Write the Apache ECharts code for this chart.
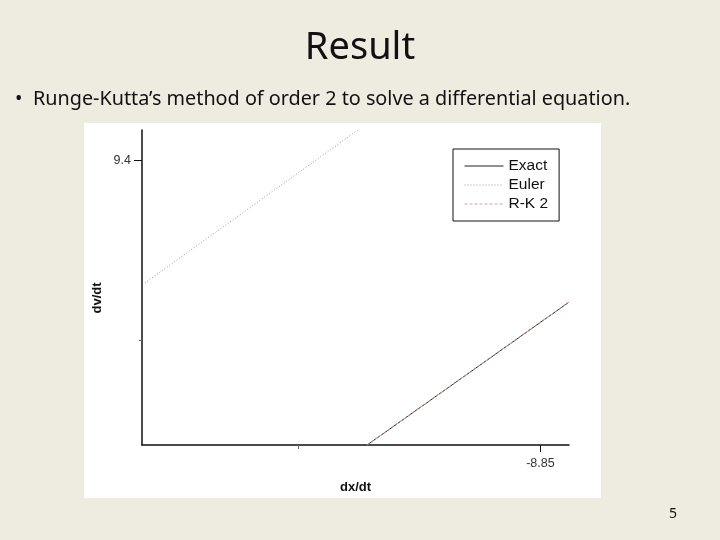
<!DOCTYPE html>
<html>
<head>
<meta charset="utf-8">
<script src="https://cdn.jsdelivr.net/npm/echarts@6/dist/echarts.min.js"></script>
<style>
  html, body { margin: 0; padding: 0; background: #eeebe1; }
  #chartContainer { width: 720px; height: 540px; }
</style>
</head>
<body>
<div id="chartContainer"></div>
<script>
  // Datos (dx/dt, dv/dt)
  const exactPoints = [[-8.8858, 9.3211], [-8.8441, 9.3607]];
  const eulerPoints = [[-8.9317, 9.3660], [-8.8877, 9.4084]];
  const rk2Points = [[-8.8858, 9.3211], [-8.8441, 9.3607]];
  const seriesNames = ['Exact', 'Euler', 'R-K 2'];

  // Marcas de los ejes
  const xMajorTicks = [-8.85];
  const xMinorTicks = [-8.9];
  const yMajorTicks = [9.4];
  const yMinorTicks = [9.35];
  const xRange = [-8.9323, -8.8441];
  const yRange = [9.3211, 9.4084];

  const chart = echarts.init(document.getElementById('chartContainer'));

  const gridBox = { left: 142, top: 130, right: 151, bottom: 95 };
  const axisFont = '"Liberation Sans", Arial, sans-serif';
  const slideFont = '"Noto Sans", sans-serif';

  const chartOptions = {
    backgroundColor: '#eeebe1',
    animation: false,
    title: {
      text: 'Result',
      left: 'center',
      top: 24,
      textStyle: {
        fontFamily: slideFont,
        fontSize: 38,
        fontWeight: 'normal',
        color: '#111'
      }
    },
    graphic: [
      { type: 'rect', z: -1, shape: { x: 84, y: 123, width: 517, height: 375 }, style: { fill: '#ffffff' } },
      { type: 'text', x: 15, y: 89, style: { text: '•', font: '19.8px ' + slideFont, fill: '#111' } },
      { type: 'text', x: 33, y: 89, style: { text: 'Runge-Kutta’s method of order 2 to solve a differential equation.', font: '19.8px ' + slideFont, fill: '#111' } },
      { type: 'text', x: 669, y: 507, style: { text: '5', font: '14px ' + slideFont, fill: '#111' } },
      { type: 'text', x: 97, y: 298, rotation: Math.PI / 2, style: { text: 'dv/dt', font: 'bold 13px ' + axisFont, fill: '#111', align: 'center', verticalAlign: 'middle' } }
    ],
    legend: {
      orient: 'vertical',
      left: 453,
      top: 149,
      padding: [9, 11, 9, 11],
      itemWidth: 39,
      itemHeight: 14,
      itemGap: 3,
      borderColor: '#111',
      borderWidth: 1,
      backgroundColor: '#fff',
      itemStyle: { opacity: 0 },
      lineStyle: { width: 1 },
      textStyle: { fontFamily: axisFont, fontSize: 15.5, color: '#111' },
      data: seriesNames
    },
    grid: gridBox,
    xAxis: [{
      type: 'value',
      min: xRange[0],
      max: xRange[1],
      name: 'dx/dt',
      nameLocation: 'middle',
      nameGap: 36,
      nameTextStyle: { fontFamily: axisFont, fontWeight: 'bold', fontSize: 13, color: '#111' },
      axisLine: { lineStyle: { color: '#111', width: 1.5 } },
      axisTick: { customValues: xMajorTicks, length: 7, lineStyle: { color: '#111' } },
      axisLabel: { customValues: xMajorTicks, margin: 12, fontFamily: axisFont, fontSize: 12.5, color: '#333', formatter: v => v.toFixed(2) },
      splitLine: { show: false }
    }, {
      type: 'value',
      min: xRange[0],
      max: xRange[1],
      position: 'bottom',
      axisLine: { show: false },
      axisTick: { customValues: xMinorTicks, length: 4, lineStyle: { color: '#666' } },
      axisLabel: { show: false },
      splitLine: { show: false }
    }],
    yAxis: [{
      type: 'value',
      min: yRange[0],
      max: yRange[1],
      axisLine: { show: true, lineStyle: { color: '#111', width: 1.5 } },
      axisTick: { show: true, customValues: yMajorTicks, length: 8, lineStyle: { color: '#111' } },
      axisLabel: { customValues: yMajorTicks, margin: 11, fontFamily: axisFont, fontSize: 12.5, color: '#333', formatter: v => v.toFixed(1) },
      splitLine: { show: false }
    }, {
      type: 'value',
      min: yRange[0],
      max: yRange[1],
      position: 'left',
      axisLine: { show: false },
      axisTick: { show: true, customValues: yMinorTicks, length: 3, lineStyle: { color: '#666' } },
      axisLabel: { show: false },
      splitLine: { show: false }
    }],
    series: [{
      name: 'Exact',
      type: 'line',
      data: exactPoints,
      symbol: 'none',
      lineStyle: { color: '#222', width: 1 },
      itemStyle: { color: '#222' }
    }, {
      name: 'Euler',
      type: 'line',
      data: eulerPoints,
      symbol: 'none',
      lineStyle: { color: '#999', width: 1, type: [1, 2] },
      itemStyle: { color: '#999' }
    }, {
      name: 'R-K 2',
      type: 'line',
      data: rk2Points,
      symbol: 'none',
      lineStyle: { color: '#d8a0a0', width: 1, type: [3, 2] },
      itemStyle: { color: '#d8a0a0' }
    }]
  };

  chart.setOption(chartOptions);
</script>
</body>
</html>
